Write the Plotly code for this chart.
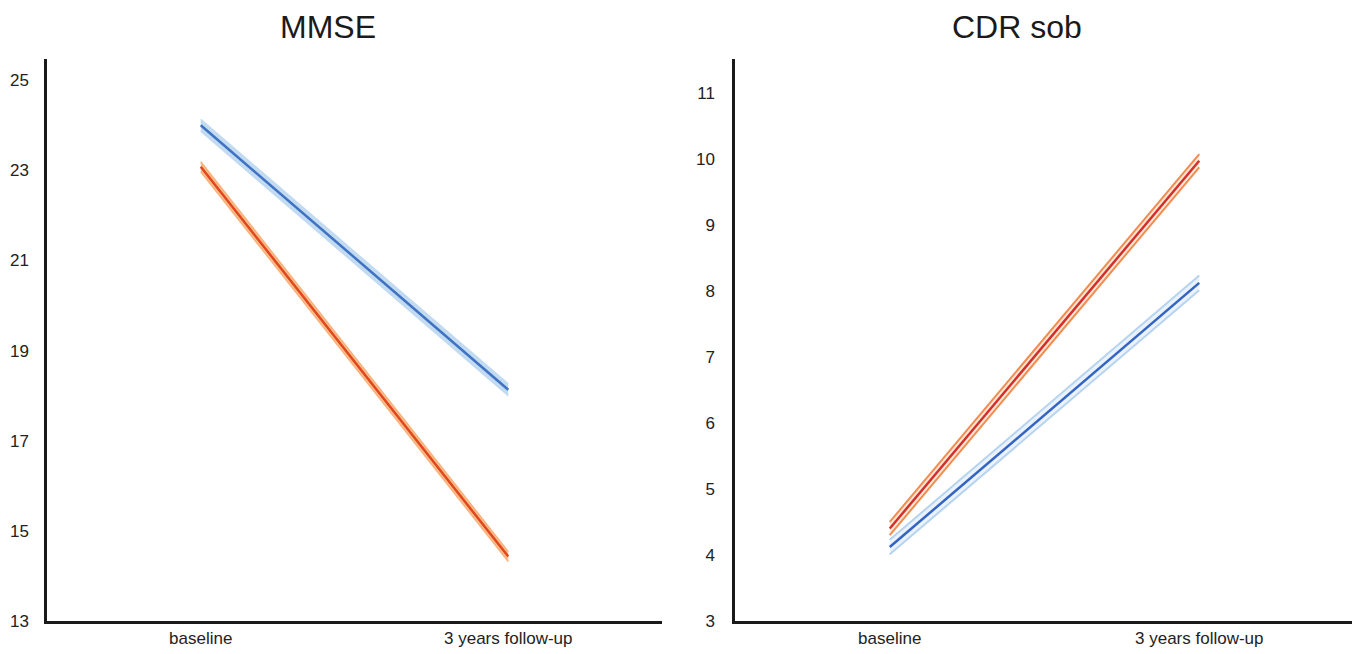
import plotly.graph_objects as go

categories = ["baseline", "3 years follow-up"]

mmse_blue = [24.0, 18.13]
mmse_blue_ci = [0.13, 0.13]
mmse_orange = [23.08, 14.43]
mmse_orange_ci = [0.11, 0.11]

cdr_red = [4.40, 9.97]
cdr_red_ci = [0.1, 0.1]
cdr_blue = [4.12, 8.12]
cdr_blue_ci = [0.11, 0.11]

mmse_ticks = [13, 15, 17, 19, 21, 23, 25]
cdr_ticks = [3, 4, 5, 6, 7, 8, 9, 10, 11]

W, H = 1352, 646  # page body adds an 8px margin

fig = go.Figure()


def add_band(xa, ya, vals, ci, center_col, band_col, fill_col, edge_w):
    lo = [v - c for v, c in zip(vals, ci)]
    hi = [v + c for v, c in zip(vals, ci)]
    fig.add_trace(go.Scatter(x=categories, y=lo, mode="lines",
                             line=dict(color=band_col, width=edge_w),
                             xaxis=xa, yaxis=ya, showlegend=False, hoverinfo="skip"))
    fig.add_trace(go.Scatter(x=categories, y=hi, mode="lines",
                             line=dict(color=band_col, width=edge_w),
                             fill="tonexty", fillcolor=fill_col,
                             xaxis=xa, yaxis=ya, showlegend=False, hoverinfo="skip"))
    fig.add_trace(go.Scatter(x=categories, y=vals, mode="lines",
                             line=dict(color=center_col, width=2.5),
                             xaxis=xa, yaxis=ya, showlegend=False))


add_band("x", "y", mmse_blue, mmse_blue_ci, "#3f72c2", "#c2dbf1", "#c2dbf1", 1.5)
add_band("x", "y", mmse_orange, mmse_orange_ci, "#e2461c", "#f8b27a", "#f8c090", 1.5)
add_band("x2", "y2", cdr_red, cdr_red_ci, "#d3302c", "#f28c4e", "#fde8d8", 2.0)
add_band("x2", "y2", cdr_blue, cdr_blue_ci, "#3464c2", "#b6d3ef", "#eaf2fb", 2.0)

axis_common = dict(showline=True, linecolor="#1a1a1a", linewidth=2.5, showgrid=False,
                   zeroline=False, ticks="", tickfont=dict(family="Liberation Sans", size=17, color="#222"))

y_dom = [(H - 613) / H, (H - 51) / H]

fig.update_layout(
    width=W, height=H,
    margin=dict(l=0, r=0, t=0, b=0),
    plot_bgcolor="white", paper_bgcolor="white",
    xaxis=dict(domain=[39 / W, 654 / W], type="category", range=[-0.5, 1.5],
               anchor="y", ticklabelstandoff=0, automargin=False, **axis_common),
    yaxis=dict(domain=y_dom, range=[13, 25.47], tickvals=mmse_ticks,
               anchor="x", ticklabelstandoff=12, automargin=False, **axis_common),
    xaxis2=dict(domain=[727 / W, 1346 / W], type="category", range=[-0.5, 1.5],
                anchor="y2", ticklabelstandoff=0, automargin=False, **axis_common),
    yaxis2=dict(domain=y_dom, range=[3, 11.51], tickvals=cdr_ticks,
                anchor="x2", ticklabelstandoff=14, automargin=False, **axis_common),
    annotations=[
        dict(text="MMSE", x=320 / W, y=1 - 19 / H, xref="paper", yref="paper",
             showarrow=False, xanchor="center", yanchor="middle",
             font=dict(family="Liberation Sans", size=32, color="#1a1a1a")),
        dict(text="CDR sob", x=1009 / W, y=1 - 19 / H, xref="paper", yref="paper",
             showarrow=False, xanchor="center", yanchor="middle",
             font=dict(family="Liberation Sans", size=32, color="#1a1a1a")),
    ],
)

fig.write_html("out.html")
